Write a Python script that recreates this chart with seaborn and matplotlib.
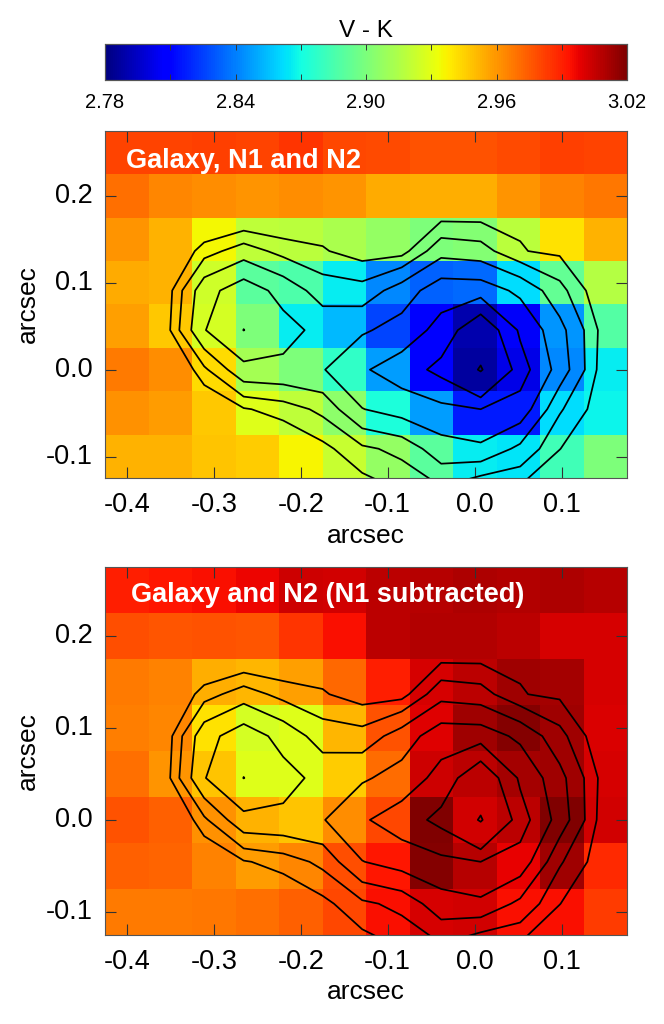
import matplotlib
matplotlib.use('Agg')
import matplotlib.pyplot as plt
import numpy as np
import pandas as pd
import seaborn as sns

# V - K colour maps, rows from top to bottom, 0.05 arcsec cells
vk_all = [
    [2.981, 2.981, 2.982, 2.981, 2.985, 2.980, 2.979, 2.977, 2.977, 2.979, 2.982, 2.981],
    [2.970, 2.964, 2.962, 2.960, 2.962, 2.960, 2.955, 2.954, 2.954, 2.960, 2.965, 2.968],
    [2.960, 2.953, 2.935, 2.919, 2.918, 2.914, 2.907, 2.900, 2.902, 2.918, 2.941, 2.953],
    [2.955, 2.953, 2.924, 2.890, 2.886, 2.866, 2.842, 2.833, 2.835, 2.862, 2.893, 2.916],
    [2.958, 2.947, 2.926, 2.900, 2.866, 2.854, 2.826, 2.809, 2.790, 2.806, 2.845, 2.888],
    [2.967, 2.962, 2.943, 2.912, 2.900, 2.878, 2.847, 2.809, 2.787, 2.802, 2.842, 2.866],
    [2.961, 2.959, 2.947, 2.929, 2.919, 2.905, 2.872, 2.847, 2.816, 2.816, 2.862, 2.868],
    [2.953, 2.953, 2.948, 2.946, 2.936, 2.922, 2.907, 2.890, 2.866, 2.864, 2.883, 2.900],
]
vk_sub = [
    [2.990, 2.992, 2.994, 2.997, 3.004, 3.003, 3.007, 3.008, 3.010, 3.009, 3.010, 3.008],
    [2.978, 2.976, 2.977, 2.976, 2.985, 2.994, 3.007, 3.009, 3.009, 3.007, 3.002, 3.002],
    [2.967, 2.965, 2.954, 2.952, 2.958, 2.972, 2.990, 3.002, 3.007, 3.013, 3.012, 3.002],
    [2.966, 2.964, 2.941, 2.926, 2.929, 2.952, 2.977, 3.000, 3.013, 3.019, 3.013, 3.001],
    [2.970, 2.960, 2.948, 2.929, 2.929, 2.946, 2.971, 3.004, 3.007, 3.012, 3.013, 3.002],
    [2.977, 2.974, 2.961, 2.953, 2.948, 2.962, 2.980, 3.020, 3.003, 3.007, 3.020, 3.003],
    [2.974, 2.973, 2.965, 2.959, 2.964, 2.978, 2.992, 3.019, 3.008, 2.998, 3.013, 2.988],
    [2.967, 2.967, 2.968, 2.970, 2.974, 2.980, 2.994, 3.002, 3.003, 2.994, 2.994, 2.983],
]

# flux map behind the contours, on its own coarser grid
flux_x = [-0.3564, -0.3110, -0.2656, -0.2202, -0.1748, -0.1294, -0.0840, -0.0386, 0.0068, 0.0522, 0.0976, 0.1430]
flux_y = [0.182, 0.1365, 0.091, 0.0455, 0.0, -0.0455, -0.091, -0.1365, -0.182]
flux = [
    [-1.0, -0.77, -0.5, -0.3, 0.3, 0.0, 0.1, 0.4, 0.45, 0.85, 0.2, 0.0],
    [-0.6, 1.5, 2.6, 1.6, 1.1, 0.51, 0.59, 2.8, 2.5, 1.05, 0.8, 0.1],
    [0.25, 4.2, 5.7, 4.25, 2.63, 2.45, 4.0, 5.7, 5.66, 4.45, 2.4, 0.3],
    [0.4, 4.72, 6.52, 5.36, 4.33, 4.59, 5.4, 7.12, 10.4, 6.2, 3.76, 0.91],
    [-1.0, 1.75, 4.35, 4.43, 4.7, 6.28, 7.4, 9.12, 13.2, 7.3, 4.14, 0.79],
    [-1.5, -0.19, 0.9, 1.4, 2.3, 4.75, 5.49, 6.0, 6.5, 5.8, 2.15, 0.51],
    [-1.5, -0.8, -0.3, 0.0, 0.7, 1.75, 2.35, 4.15, 4.48, 2.94, 1.02, 0.2],
    [-1.5, -1.2, -1.0, -0.5, 0.3, 0.52, 1.1, 1.9, 0.85, 0.85, 0.2, 0.0],
    [-1.5, -1.5, -1.2, -1.0, 0.0, 0.0, 0.0, 0.0, 0.0, 0.0, 0.0, 0.0],
]
flux_levels = [1.0, 2.0, 3.3, 4.8, 6.5, 8.5, 12.9]

x_ticks = [-0.4, -0.3, -0.2, -0.1, 0.0, 0.1]
x_tick_labels = ['-0.4', '-0.3', '-0.2', '-0.1', '0.0', '0.1']
y_ticks = [0.2, 0.1, 0.0, -0.1]
y_tick_labels = ['0.2', '0.1', '0.0', '-0.1']
cbar_ticks = [2.78, 2.84, 2.90, 2.96, 3.02]
cbar_tick_labels = ['2.78', '2.84', '2.90', '2.96', '3.02']
cbar_minor = [2.81, 2.87, 2.93, 2.99]

X0, Y1, CELL = -0.425, 0.275, 0.05
W, H = 664, 1024
EDGE = '#555555'

plt.rcParams['font.family'] = ['Liberation Sans', 'DejaVu Sans']


def axes_box(left, right, top, bottom):
    return [left / W, 1 - bottom / H, (right - left) / W, (bottom - top) / H]


def to_cell_x(v):
    return (np.asarray(v) - X0) / CELL


def to_cell_y(v):
    return (Y1 - np.asarray(v)) / CELL


def draw_panel(ax, values, cax, title, title_x, title_y):
    kw = {}
    if cax is not None:
        kw = {'cbar_ax': cax, 'cbar_kws': {'orientation': 'horizontal', 'ticks': cbar_ticks}}
    sns.heatmap(pd.DataFrame(values), ax=ax, cmap='jet', vmin=2.78, vmax=3.02,
                cbar=cax is not None, xticklabels=False, yticklabels=False, **kw)
    ax.contour(to_cell_x(flux_x), to_cell_y(flux_y), np.array(flux), levels=flux_levels,
               colors='black', linewidths=1.25, linestyles='solid')

    ax.set_xticks(to_cell_x(x_ticks))
    ax.set_xticklabels(x_tick_labels, rotation=0)
    ax.set_yticks(to_cell_y(y_ticks))
    ax.set_yticklabels(y_tick_labels, rotation=0, va='center')
    ax.tick_params(direction='in', length=8, width=0.8, color='#333333', top=True, right=True,
                   labelsize=19.5, pad=10)
    ax.tick_params(axis='y', pad=9)
    ax.set_xlabel('arcsec', fontsize=19, labelpad=4)
    ax.set_ylabel('arcsec', fontsize=19, labelpad=4)
    for spine in ax.spines.values():
        spine.set_visible(True)
        spine.set_color(EDGE)
        spine.set_linewidth(0.8)
    ax.text(title_x, title_y, title, color='white', fontsize=19.5, fontweight='bold', va='center', ha='left')


fig = plt.figure(figsize=(W / 100, H / 100), dpi=100)
ax_top = fig.add_axes(axes_box(105, 627, 130.7, 478.3))
ax_bot = fig.add_axes(axes_box(105, 627, 566.7, 935))
cax = fig.add_axes(axes_box(105, 627, 44, 80))

draw_panel(ax_top, vk_all, cax, 'Galaxy, N1 and N2', 0.48, 0.70)
draw_panel(ax_bot, vk_sub, None, 'Galaxy and N2 (N1 subtracted)', 0.6, 0.62)

# colour bar
cax.set_xticks(cbar_ticks)
cax.set_xticklabels(cbar_tick_labels)
cax.set_xticks(cbar_minor, minor=True)
cax.tick_params(axis='x', which='both', direction='in', length=4, width=0.7, color='#333333',
                top=True, bottom=True, labelsize=14.5, pad=9)
cax.set_title('V - K', fontsize=17.5, pad=5)
for spine in cax.spines.values():
    spine.set_visible(True)
    spine.set_color(EDGE)
    spine.set_linewidth(0.8)

fig.savefig('out.png', dpi=100)
